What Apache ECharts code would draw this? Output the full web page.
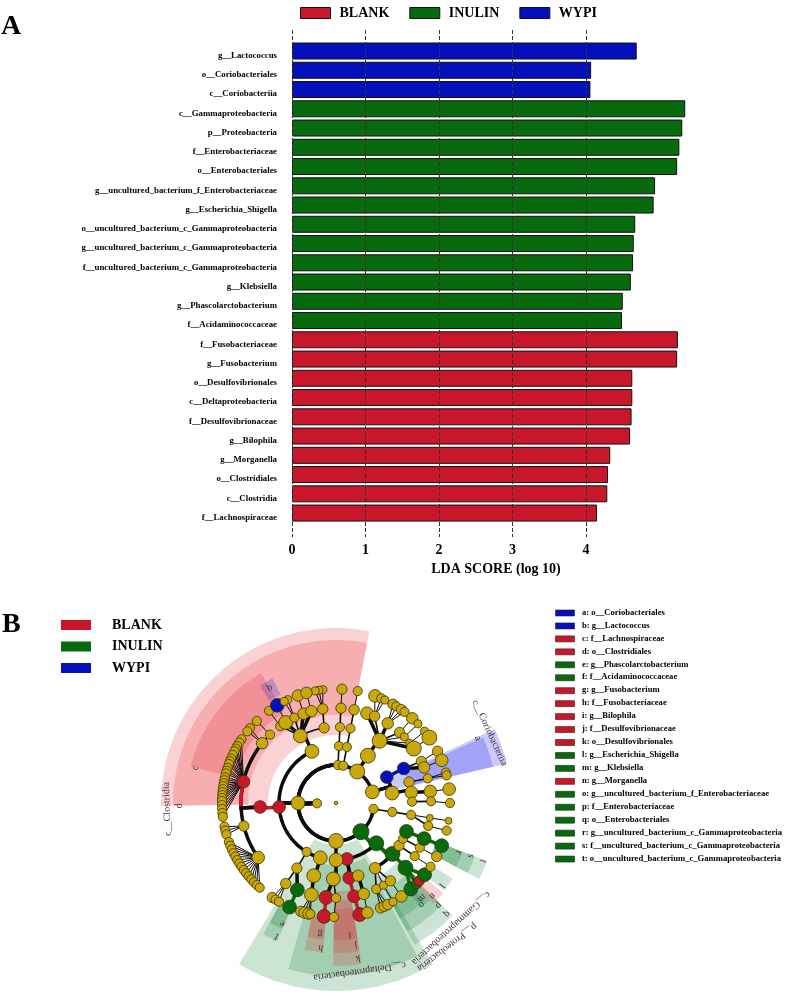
<!DOCTYPE html>
<html>
<head>
<meta charset="utf-8">
<style>html,body{margin:0;background:#fff}#chart{width:787px;height:1000px}</style>
<script src="https://cdn.jsdelivr.net/npm/echarts@6/dist/echarts.min.js"></script>
</head>
<body>
<div id="chart"></div>
<script>
// panel A: LDA scores, top to bottom
var taxa = ['g__Lactococcus', 'o__Coriobacteriales', 'c__Coriobacteriia', 'c__Gammaproteobacteria', 'p__Proteobacteria',
    'f__Enterobacteriaceae', 'o__Enterobacteriales', 'g__uncultured_bacterium_f_Enterobacteriaceae', 'g__Escherichia_Shigella',
    'o__uncultured_bacterium_c_Gammaproteobacteria', 'g__uncultured_bacterium_c_Gammaproteobacteria',
    'f__uncultured_bacterium_c_Gammaproteobacteria', 'g__Klebsiella', 'g__Phascolarctobacterium', 'f__Acidaminococcaceae',
    'f__Fusobacteriaceae', 'g__Fusobacterium', 'o__Desulfovibrionales', 'c__Deltaproteobacteria', 'f__Desulfovibrionaceae',
    'g__Bilophila', 'g__Morganella', 'o__Clostridiales', 'c__Clostridia', 'f__Lachnospiraceae'];
var wypiScores = [4.69, 4.07, 4.06, null, null, null, null, null, null, null, null, null, null, null, null, null, null, null, null, null, null, null, null, null, null];
var inulinScores = [null, null, null, 5.35, 5.31, 5.27, 5.24, 4.94, 4.92, 4.67, 4.65, 4.64, 4.61, 4.50, 4.49, null, null, null, null, null, null, null, null, null, null];
var blankScores = [null, null, null, null, null, null, null, null, null, null, null, null, null, null, null, 5.25, 5.24, 4.63, 4.63, 4.62, 4.60, 4.33, 4.30, 4.29, 4.15];
var scoreTicks = [0, 1, 2, 3, 4];

var groups = ['BLANK', 'INULIN', 'WYPI'];
var groupColors = { BLANK: '#c8172b', INULIN: '#076b0e', WYPI: '#0510bd', none: '#c9a80c' };
var groupTints = { BLANK: 'rgba(230,30,40,0.2)', INULIN: 'rgba(0,120,40,0.2)', WYPI: 'rgba(20,20,230,0.22)' };

// panel B key
var keyLabels = ['a: o__Coriobacteriales', 'b: g__Lactococcus', 'c: f__Lachnospiraceae', 'd: o__Clostridiales', 'e: g__Phascolarctobacterium',
    'f: f__Acidaminococcaceae', 'g: g__Fusobacterium', 'h: f__Fusobacteriaceae', 'i: g__Bilophila', 'j: f__Desulfovibrionaceae',
    'k: o__Desulfovibrionales', 'l: g__Escherichia_Shigella', 'm: g__Klebsiella', 'n: g__Morganella',
    'o: g__uncultured_bacterium_f_Enterobacteriaceae', 'p: f__Enterobacteriaceae', 'q: o__Enterobacteriales',
    'r: g__uncultured_bacterium_c_Gammaproteobacteria', 's: f__uncultured_bacterium_c_Gammaproteobacteria', 't: o__uncultured_bacterium_c_Gammaproteobacteria'];
var keyGroups = ['WYPI', 'WYPI', 'BLANK', 'BLANK', 'INULIN', 'INULIN', 'BLANK', 'BLANK', 'BLANK', 'BLANK', 'BLANK', 'INULIN', 'INULIN', 'BLANK',
    'INULIN', 'INULIN', 'INULIN', 'INULIN', 'INULIN', 'INULIN'];

// cladogram nodes: id, parent, radius, angle, abundance, group
var Y = 'none', R = 'BLANK', G = 'INULIN', B = 'WYPI';
var cladeNodes = [
    ['core', null, 0, 0, 3, Y],
    ['root', null, 19, 181, 8, Y],
    // Firmicutes
    ['F', 'root', 38, 180, 12, Y],
    ['cla', 'F', 57, 184, 11, R], ['d', 'cla', 76, 183, 11, R],
    ['d1', 'd', 95, 134, 8, Y], ['d1a', 'd1', 114, 134, 8, Y],
    ['d2', 'd', 95, 141, 10, Y], ['d2a', 'd2', 114, 139, 8, Y], ['d2b', 'd2', 114, 141, 8, Y],
    ['c', 'd', 95, 167, 11, R],
    ['d4', 'd', 95, 194, 9, Y], ['d4a', 'd4', 114, 192, 8, Y], ['d4b', 'd4', 114, 194, 8, Y], ['d4c', 'd4', 114, 196, 8, Y],
    ['d5', 'd', 95, 215, 11, Y],
    ['b1', 'F', 57, 115, 12, Y],
    ['b2', 'b1', 76, 118, 12, Y], ['b3', 'b1', 76, 99, 9, Y],
    ['b3a', 'b3', 95, 98, 9, Y], ['b3a1', 'b3a', 114, 96.6, 7, Y], ['b3a2', 'b3a', 114, 98.6, 7, Y], ['b3a3', 'b3a', 114, 100.5, 7, Y],
    ['b2a', 'b2', 95, 126, 8, Y], ['b2a1', 'b2a', 114, 126, 8, Y],
    ['b2b', 'b2', 95, 122, 12, Y], ['lac', 'b2b', 114, 121, 12, B],
    ['b2c', 'b2', 95, 116, 8, Y], ['b2c1', 'b2c', 114, 115, 7, Y], ['b2c2', 'b2c', 114, 117, 7, Y],
    ['b2d', 'b2', 95, 110, 10, Y], ['b2d1', 'b2d', 114, 109.5, 10, Y],
    ['b2e', 'b2', 95, 105, 10, Y], ['b2e1', 'b2e', 114, 105, 10, Y],
    ['u1', 'F', 57, 239, 8, Y], ['u2', 'u1', 76, 239, 9, Y], ['u3', 'u2', 95, 238, 9, Y],
    ['u3a', 'u3', 114, 236, 9, Y], ['u3b', 'u3', 114, 238, 8, Y], ['u3c', 'u3', 114, 240, 8, Y],
    ['ac', 'u2', 95, 246, 12, G], ['ph', 'ac', 114, 246, 12, G],
    ['w1', 'F', 57, 254, 12, Y], ['w2', 'w1', 76, 253, 12, Y], ['w3', 'w2', 95, 255, 12, Y],
    ['w3a', 'w3', 114, 252, 9, Y], ['w3b', 'w3', 114, 254, 10, Y], ['w3c', 'w3', 114, 256, 10, Y], ['w3d', 'w3', 114, 257, 8, Y],
    // top chains
    ['p2', 'root', 38, 87, 8, Y], ['p2a', 'p2', 57, 87, 8, Y], ['p2b', 'p2a', 76, 87, 8, Y], ['p2c', 'p2b', 95, 87, 9, Y], ['p2d', 'p2c', 114, 87, 9, Y],
    ['p3', 'root', 38, 79, 8, Y], ['p3a', 'p3', 57, 79, 8, Y], ['p3b', 'p3a', 76, 79, 8, Y], ['p3c', 'p3b', 95, 79, 9, Y], ['p3d', 'p3c', 114, 79, 8, Y],
    // top right
    ['p4', 'root', 38, 56, 13, Y], ['p4a', 'p4', 57, 56, 13, Y], ['p4b', 'p4a', 76, 55, 13, Y],
    ['p4c', 'p4b', 95, 71, 11, Y],
    ['p4d', 'p4b', 95, 66, 9, Y], ['p4d1', 'p4d', 114, 70, 11, Y], ['p4d2', 'p4d', 114, 66.6, 8, Y], ['p4d3', 'p4d', 114, 64.6, 7, Y],
    ['p4e', 'p4b', 95, 57, 10, Y], ['p4e1', 'p4e', 114, 60, 9, Y], ['p4e2', 'p4e', 114, 58, 8, Y], ['p4e3', 'p4e', 114, 55, 9, Y], ['p4e4', 'p4e', 114, 53, 8, Y],
    ['p4f', 'p4b', 95, 48, 9, Y], ['p4f1', 'p4f', 114, 48, 10, Y],
    ['p4g', 'p4b', 95, 44, 7, Y], ['p4g1', 'p4g', 114, 44, 7, Y],
    ['p4h', 'p4b', 95, 39, 7, Y], ['p4h1', 'p4h', 114, 39, 7, Y],
    ['p4i', 'p4b', 95, 35, 13, Y], ['p4i1', 'p4i', 114, 35, 13, Y],
    // Actinobacteria and neighbours
    ['p5', 'root', 38, 17, 12, Y],
    ['cor', 'p5', 57, 27, 11, B], ['corO', 'cor', 76, 27, 11, B],
    ['co1', 'corO', 95, 26, 9, Y], ['co1a', 'co1', 114, 27, 9, Y],
    ['co2', 'corO', 95, 22, 10, Y], ['co2a', 'co2', 114, 22, 11, Y],
    ['q5', 'p5', 57, 10, 12, Y],
    ['q5a', 'q5', 76, 16, 9, Y], ['q5b', 'q5a', 95, 15, 8, Y], ['q5c', 'q5b', 114, 15.5, 8, Y], ['q5d', 'q5b', 114, 14, 8, Y],
    ['q6a', 'q5', 76, 8, 11, Y], ['q6b', 'q6a', 95, 7, 11, Y], ['q6c', 'q6b', 114, 7, 11, Y],
    ['q7a', 'q5', 76, 1, 8, Y], ['q7b', 'q7a', 95, 1, 8, Y], ['q7c', 'q7b', 114, 0, 8, Y],
    ['p7', 'root', 38, 351, 8, Y], ['p7a', 'p7', 57, 351, 8, Y], ['p7b', 'p7a', 76, 351, 8, Y],
    ['p7c', 'p7b', 95, 351, 6, Y], ['p7d', 'p7c', 114, 351, 6, Y],
    ['p7e', 'p7b', 95, 346, 8, Y], ['p7f', 'p7e', 114, 346, 8, Y],
    // Proteobacteria
    ['pro', 'root', 38, 311, 14, G],
    ['del', 'pro', 57, 281, 11, R], ['des', 'del', 76, 280, 11, R], ['desF', 'des', 95, 281, 11, R], ['bil', 'desF', 114, 282, 12, R],
    ['del2', 'del', 76, 287, 10, Y], ['del3', 'del2', 95, 287, 10, Y], ['del4', 'del3', 114, 286, 10, Y],
    ['gam', 'pro', 57, 315, 13, G],
    ['g1', 'gam', 76, 301, 10, Y],
    ['g1a', 'g1', 95, 295, 8, Y], ['g1a1', 'g1a', 114, 293, 9, Y], ['g1a2', 'g1a', 114, 295, 9, Y], ['g1a3', 'g1a', 114, 297, 9, Y],
    ['g1b', 'g1', 95, 300, 7, Y], ['g1b1', 'g1b', 114, 300, 7, Y],
    ['g1c', 'g1', 95, 305, 9, Y], ['g1c1', 'g1c', 114, 305, 10, Y],
    ['ent', 'gam', 76, 318, 13, G], ['entF', 'ent', 95, 317, 13, G],
    ['kle', 'entF', 114, 311, 12, G], ['unc', 'entF', 114, 315, 9, G], ['mor', 'entF', 114, 317, 9, R], ['esc', 'entF', 114, 321, 12, G],
    ['g2', 'gam', 76, 326, 9, Y], ['g2a', 'g2', 95, 326, 8, Y], ['g2b', 'g2a', 114, 326, 8, Y],
    ['g3', 'gam', 76, 332, 8, Y], ['g3a', 'g3', 95, 332, 8, Y], ['g3b', 'g3a', 114, 332, 9, Y],
    ['t', 'gam', 76, 338, 12, G], ['s', 't', 95, 338, 12, G], ['r', 's', 114, 338, 12, G],
    // Fusobacteria
    ['fu', 'root', 38, 270, 13, Y], ['fu1', 'fu', 57, 270, 12, Y], ['fu2', 'fu1', 76, 268, 12, Y],
    ['fuF', 'fu2', 95, 264, 12, R], ['fuG', 'fuF', 114, 264, 12, R],
    ['fu3', 'fu2', 95, 270, 8, Y], ['fu4', 'fu3', 114, 269, 8, Y]
];
// long fans of leaves under the two Clostridiales families
var lachnoLeaves = [146, 148, 150, 151.5, 153, 155, 157, 158.5, 160, 162, 163.5, 165, 167, 168.5, 170, 171.5, 173, 174.5, 176, 177.5, 179, 181, 183, 185, 187];
var ruminoLeaves = [200, 202, 204, 206, 208, 210, 212, 214, 216, 218, 220, 222, 224, 226, 228];

// shaded clades: name, inner radius, outer radius, start angle, end angle, group
var cladeSectors = [
    ['c__Clostridia', 68, 175, 79, 181, R],
    ['d', 88, 163, 79, 181, R],
    ['c', 104, 150, 120, 166, R],
    ['b', 122, 140, 117, 123, B],
    ['c__Coriobacteriia', 58, 175, 13, 25, B],
    ['a', 75, 161, 13, 24, B],
    ['p__Proteobacteria', 42, 188, 239, 301, G],
    ['c__Deltaproteobacteria', 62, 173, 254, 298, G],
    ['f', 115, 150, 241, 247, G],
    ['e', 115, 137, 241, 247, G],
    ['h', 115, 150, 258, 265, R],
    ['g', 115, 137, 258, 265, R],
    ['k', 88, 163, 269, 279, R],
    ['j', 97, 150, 269, 279, R],
    ['i', 106, 137, 269, 279, R],
    ['q', 85, 162, 299, 316, G],
    ['p', 100, 147, 299, 316, G],
    ['o', 117, 132, 299, 312, G],
    ['m', 117, 135, 309, 314, G],
    ['n', 117, 140, 314, 320, R],
    ['l', 117, 139, 321, 327, G],
    ['t', 108, 162, 332, 339, G],
    ['s', 108, 149, 332, 339, G],
    ['r', 108, 136, 332, 339, G]
];
// clade names round the ring: text, radius, angle
var cladeLabels = [
    ['c__Clostridia', 169, 182], ['d', 157, 181], ['c', 145, 166], ['b', 133, 120],
    ['c__Coriobacteriia', 169, 24.5], ['a', 156, 24.6],
    ['c__Gammaproteobacteria', 170, 312.6], ['p__Proteobacteria', 182, 307.6], ['c__Deltaproteobacteria', 170, 278],
    ['k', 157, 278], ['j', 144, 278], ['i', 133, 276], ['h', 146, 264], ['g', 132, 263], ['f', 146, 246], ['e', 132.5, 246],
    ['q', 157, 315], ['p', 145, 315], ['o', 133, 310], ['n', 134, 316], ['m', 128, 312], ['l', 134, 322],
    ['t', 158, 338.5], ['s', 145, 338.6], ['r', 132.4, 338]
];

var nodes = cladeNodes.slice();
lachnoLeaves.forEach(function (a, i) { nodes.push(['cL' + i, 'c', 114, a, 8, Y]); });
ruminoLeaves.forEach(function (a, i) { nodes.push(['rL' + i, 'd5', 114, a, 8, Y]); });
var nodeById = {};
nodes.forEach(function (n) { nodeById[n[0]] = n; });
var edges = nodes.filter(function (n) { return n[1]; });

var serif = '"Liberation Serif", "Times New Roman", serif';
var chart = echarts.init(document.getElementById('chart'));

function barSeries(name, values) {
    return {
        name: name, type: 'bar', stack: 'lda', barWidth: 17, z: 2, xAxisIndex: 0, yAxisIndex: 0,
        itemStyle: { color: groupColors[name], borderColor: '#111', borderWidth: 1 },
        data: values
    };
}

function arcPoints(api, radius, a0, a1) {
    var pts = [];
    var steps = Math.max(1, Math.ceil(Math.abs(a1 - a0) / 2));
    for (var i = 0; i <= steps; i++) pts.push(api.coord([radius, a0 + (a1 - a0) * i / steps]));
    return pts;
}

function renderSector(params, api) {
    var s = cladeSectors[params.dataIndex];
    var pts = arcPoints(api, s[2], s[3], s[4]).concat(arcPoints(api, s[1], s[4], s[3]));
    return { type: 'polygon', shape: { points: pts }, style: { fill: groupTints[s[5]] } };
}

function edgeWidth(child, parent, same) {
    if (same) return 3.5;
    if (child[2] <= 38 || (child[2] < 100 && child[4] >= 10)) return 3.5;
    return child[4] >= 8 && child[2] < 100 ? 1.6 : 1;
}

function renderEdge(params, api) {
    var child = edges[params.dataIndex];
    var parent = nodeById[child[1]];
    var same = child[5] !== Y && child[5] === parent[5];
    var pts;
    if (parent[2] >= 76 && parent[0] !== 'd') {
        pts = [api.coord([parent[2], parent[3]]), api.coord([child[2], child[3]])];
    } else {
        // out along the parent's angle, then round the child's ring
        pts = [api.coord([parent[2], parent[3]])].concat(arcPoints(api, child[2], parent[3], child[3]));
    }
    return {
        type: 'polyline', shape: { points: pts },
        style: { fill: null, stroke: same ? groupColors[child[5]] : '#0c0c0c', lineWidth: edgeWidth(child, parent, same) }
    };
}

function renderLabel(params, api) {
    var l = cladeLabels[params.dataIndex];
    var p = api.coord([l[1], l[2]]);
    return {
        type: 'text', x: p[0], y: p[1], rotation: (l[2] - 90) * Math.PI / 180,
        style: { text: l[0], x: 0, y: 0, align: 'center', verticalAlign: 'middle', font: '10px ' + serif, fill: '#4a3038' }
    };
}

// key for panel B
var graphics = [
    { type: 'text', left: 1, top: 13, style: { text: 'A', font: 'bold 28px ' + serif, fill: '#000' } },
    { type: 'text', left: 2, top: 611, style: { text: 'B', font: 'bold 28px ' + serif, fill: '#000' } }
];
keyLabels.forEach(function (label, i) {
    var y = 613 + i * 12.95;
    graphics.push({ type: 'rect', shape: { x: 555.5, y: y - 3, width: 19, height: 6 }, style: { fill: groupColors[keyGroups[i]], stroke: '#222', lineWidth: 0.6 } });
    graphics.push({ type: 'text', x: 582, y: y - 5, style: { text: label, font: 'bold 8.6px ' + serif, fill: '#000' } });
});

chart.setOption({
    animation: false,
    backgroundColor: '#fff',
    legend: [
        {
            left: 295, top: 1, itemWidth: 30, itemHeight: 11, itemGap: 20, icon: 'rect', data: groups, selectedMode: false,
            itemStyle: { borderColor: '#111', borderWidth: 1 },
            textStyle: { fontFamily: serif, fontWeight: 'bold', fontSize: 14, color: '#000', padding: [0, 0, 0, 4] }
        },
        {
            left: 56, top: 613, orient: 'vertical', itemWidth: 30, itemHeight: 10, itemGap: 7.5, icon: 'rect', data: groups, selectedMode: false,
            itemStyle: { borderWidth: 0 },
            textStyle: { fontFamily: serif, fontWeight: 'bold', fontSize: 14, color: '#000', padding: [0, 0, 0, 16] }
        }
    ],
    grid: [
        { left: 292, top: 41.4, width: 404.25, height: 481.3 },
        { left: 292, top: 30, width: 294, height: 507 }
    ],
    xAxis: [
        { gridIndex: 0, type: 'value', min: 0, max: 5.5, show: false },
        {
            gridIndex: 1, type: 'value', min: 0, max: 4, interval: 1, z: 10,
            axisLine: { show: false }, axisTick: { show: false },
            axisLabel: { margin: 6, fontFamily: serif, fontWeight: 'bold', fontSize: 14, color: '#000', customValues: scoreTicks },
            splitLine: { show: true, lineStyle: { type: 'dashed', color: '#333', width: 1 } },
            name: 'LDA SCORE (log 10)', nameLocation: 'middle', nameGap: 25,
            nameTextStyle: { fontFamily: serif, fontWeight: 'bold', fontSize: 14, color: '#000', padding: [0, 0, 0, 114] }
        }
    ],
    yAxis: [
        {
            gridIndex: 0, type: 'category', inverse: true, data: taxa,
            axisLine: { show: false }, axisTick: { show: false }, splitLine: { show: false },
            axisLabel: { margin: 15, interval: 0, fontFamily: serif, fontWeight: 'bold', fontSize: 8.8, color: '#000', verticalAlign: 'top' }
        },
        { gridIndex: 1, type: 'value', min: 0, max: 1, show: false }
    ],
    polar: { center: [336, 803], radius: 200 },
    radiusAxis: { min: 0, max: 200, show: false },
    angleAxis: { min: 0, max: 360, startAngle: 0, clockwise: false, show: false },
    series: [
        barSeries('BLANK', blankScores),
        barSeries('INULIN', inulinScores),
        barSeries('WYPI', wypiScores),
        { type: 'custom', coordinateSystem: 'polar', z: 1, silent: true, renderItem: renderSector,
            data: cladeSectors.map(function (s) { return [s[2], s[3]]; }) },
        { type: 'custom', coordinateSystem: 'polar', z: 3, silent: true, renderItem: renderEdge,
            data: edges.map(function (n) { return [n[2], n[3]]; }) },
        {
            type: 'scatter', coordinateSystem: 'polar', z: 4, silent: true,
            symbolSize: function (v) { return v[2] * 1.15; },
            itemStyle: { color: function (p) { return groupColors[p.value[3]]; }, borderColor: '#3a3200', borderWidth: 0.8, opacity: 1 },
            data: nodes.map(function (n) { return [n[2], n[3], n[4], n[5]]; })
        },
        { type: 'custom', coordinateSystem: 'polar', z: 5, silent: true, renderItem: renderLabel,
            data: cladeLabels.map(function (l) { return [l[1], l[2]]; }) }
    ],
    graphic: { elements: graphics }
});
</script>
</body>
</html>
